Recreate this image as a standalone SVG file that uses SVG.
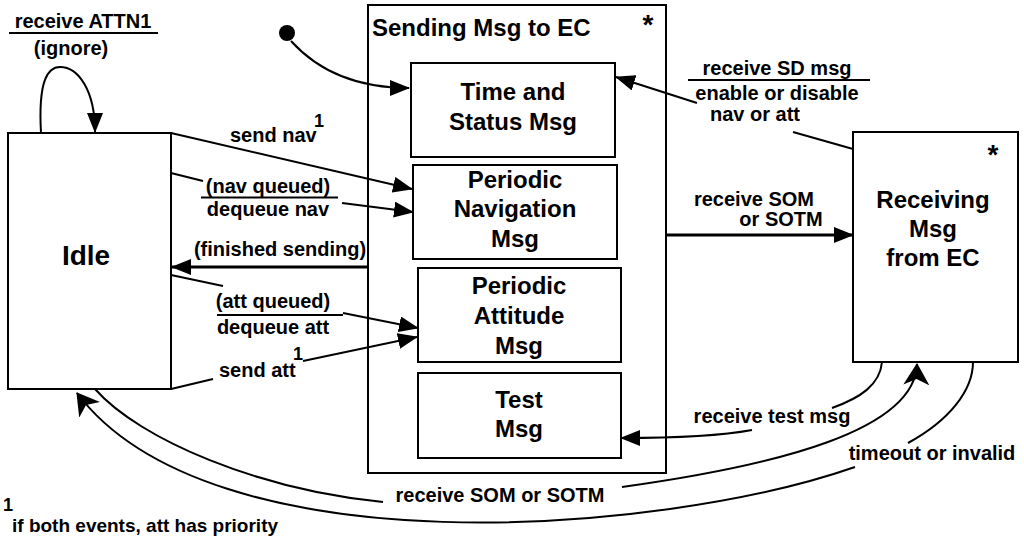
<svg xmlns="http://www.w3.org/2000/svg" width="1024" height="539" viewBox="0 0 1024 539">
<style>
.box{fill:#fff;stroke:#000;stroke-width:2}
.ln{fill:none;stroke:#000;stroke-width:2}
.thk{fill:none;stroke:#000;stroke-width:3}
.lb{font-family:"Liberation Sans",Arial,sans-serif;font-weight:bold;font-size:20px;fill:#000}
.bt{font-family:"Liberation Sans",Arial,sans-serif;font-weight:bold;font-size:24px;fill:#000;text-anchor:middle}
.mid{text-anchor:middle}
</style>
<defs>
<marker id="ah" markerUnits="userSpaceOnUse" markerWidth="20" markerHeight="16" viewBox="0 0 20 16" refX="19" refY="8" orient="auto">
<path d="M0,0 L20,8 L0,16 z" fill="#000"/>
</marker>
<marker id="an" markerUnits="userSpaceOnUse" markerWidth="22" markerHeight="26" viewBox="0 0 22 26" refX="21" refY="13" orient="auto">
<path d="M0,0 L22,13 L0,26 L6,13 z" fill="#000"/>
</marker>
</defs>
<rect width="1024" height="539" fill="#fff"/>

<g id="idle">
<rect class="box" x="8" y="133" width="163" height="256"/>
<text class="bt" x="86" y="265" style="font-size:28px">Idle</text>
</g>

<g id="sending">
<rect class="box" x="368" y="5" width="298" height="468"/>
<text class="lb" x="372" y="36" style="font-size:24px">Sending Msg to EC</text>
<text class="bt" x="648" y="34" style="font-size:28px">*</text>
</g>

<g id="time-status">
<rect class="box" x="411" y="63" width="204" height="94"/>
<text class="bt" x="513" y="100">Time and</text>
<text class="bt" x="513" y="130">Status Msg</text>
</g>

<g id="periodic-nav">
<rect class="box" x="413" y="165" width="204" height="94"/>
<text class="bt" x="515" y="188">Periodic</text>
<text class="bt" x="515" y="217">Navigation</text>
<text class="bt" x="515" y="247">Msg</text>
</g>

<g id="periodic-att">
<rect class="box" x="418" y="268" width="203" height="94"/>
<text class="bt" x="519" y="294">Periodic</text>
<text class="bt" x="519" y="324">Attitude</text>
<text class="bt" x="519" y="354">Msg</text>
</g>

<g id="test">
<rect class="box" x="418" y="373" width="203" height="85"/>
<text class="bt" x="519" y="408">Test</text>
<text class="bt" x="519" y="437">Msg</text>
</g>

<g id="receiving">
<rect class="box" x="853" y="132" width="165" height="230"/>
<text class="bt" x="993" y="164" style="font-size:28px">*</text>
<text class="bt" x="933" y="208">Receiving</text>
<text class="bt" x="933" y="237">Msg</text>
<text class="bt" x="933" y="266">from EC</text>
</g>

<g id="initial">
<circle cx="287" cy="33" r="8" fill="#000"/>
</g>

<g id="connectors">
<path class="ln" d="M291,41 C310,62 345,88 409,88" marker-end="url(#ah)"/>
<path class="ln" d="M41,133 C38,80 48,67 60,67 C78,67 95,90 95,132" marker-end="url(#ah)"/>
<path class="ln" d="M171,133 L412,189" marker-end="url(#ah)"/>
<path class="ln" d="M171,173 L203,181"/>
<path class="ln" d="M342,203 L413,212" marker-end="url(#ah)"/>
<path class="thk" d="M368,267 L172,267" marker-end="url(#ah)"/>
<path class="ln" d="M171,275 L223,286"/>
<path class="ln" d="M343,313 L418,328" marker-end="url(#ah)"/>
<path class="ln" d="M171,389 L213,379"/>
<path class="ln" d="M303,361 L417,337" marker-end="url(#ah)"/>
<path class="ln" d="M697,103 L616,77" marker-end="url(#ah)"/>
<path class="ln" d="M793,132 L853,149"/>
<path class="thk" d="M667,235 L853,235" marker-end="url(#ah)"/>
<path class="ln" d="M882,362 C880,385 860,398 832,408"/>
<path class="ln" d="M752,430 C720,436 680,438 621,438" marker-end="url(#ah)"/>
<path class="ln" d="M95,389 C140,440 260,490 383,502"/>
<path class="ln" d="M622,487 C780,465 915,430 917,364" marker-end="url(#an)"/>
<path class="ln" d="M973,362 C973,390 950,420 908,443"/>
<path class="ln" d="M855,467 C660,535 210,570 77,393" marker-end="url(#an)"/>
<path class="ln" d="M9,33 L158,33"/>
<path class="ln" d="M201,197.5 L338,197.5"/>
<path class="ln" d="M217,315 L343,315"/>
<path class="ln" d="M688,80 L870,80"/>
</g>

<g id="labels">
<text class="lb mid" x="83" y="28">receive ATTN1</text>
<text class="lb mid" x="71" y="55">(ignore)</text>
<text class="lb" x="230" y="142">send nav</text>
<text class="lb" x="314" y="127" style="font-size:18px">1</text>
<text class="lb mid" x="268" y="193">(nav queued)</text>
<text class="lb mid" x="268" y="216">dequeue nav</text>
<text class="lb mid" x="280" y="256">(finished sending)</text>
<text class="lb mid" x="273" y="308">(att queued)</text>
<text class="lb mid" x="273" y="334">dequeue att</text>
<text class="lb" x="219" y="377">send att</text>
<text class="lb" x="293" y="360" style="font-size:18px">1</text>
<text class="lb mid" x="777" y="75">receive SD msg</text>
<text class="lb mid" x="777" y="100">enable or disable</text>
<text class="lb mid" x="755" y="121">nav or att</text>
<text class="lb mid" x="754" y="206">receive SOM</text>
<text class="lb mid" x="781" y="226">or SOTM</text>
<text class="lb mid" x="772" y="423">receive test msg</text>
<text class="lb mid" x="932" y="460">timeout or invalid</text>
<text class="lb mid" x="500" y="502">receive SOM or SOTM</text>
<text class="lb" x="3" y="511" style="font-size:18px">1</text>
<text class="lb" x="12" y="532" style="font-size:19px">if both events, att has priority</text>
</g>
</svg>
